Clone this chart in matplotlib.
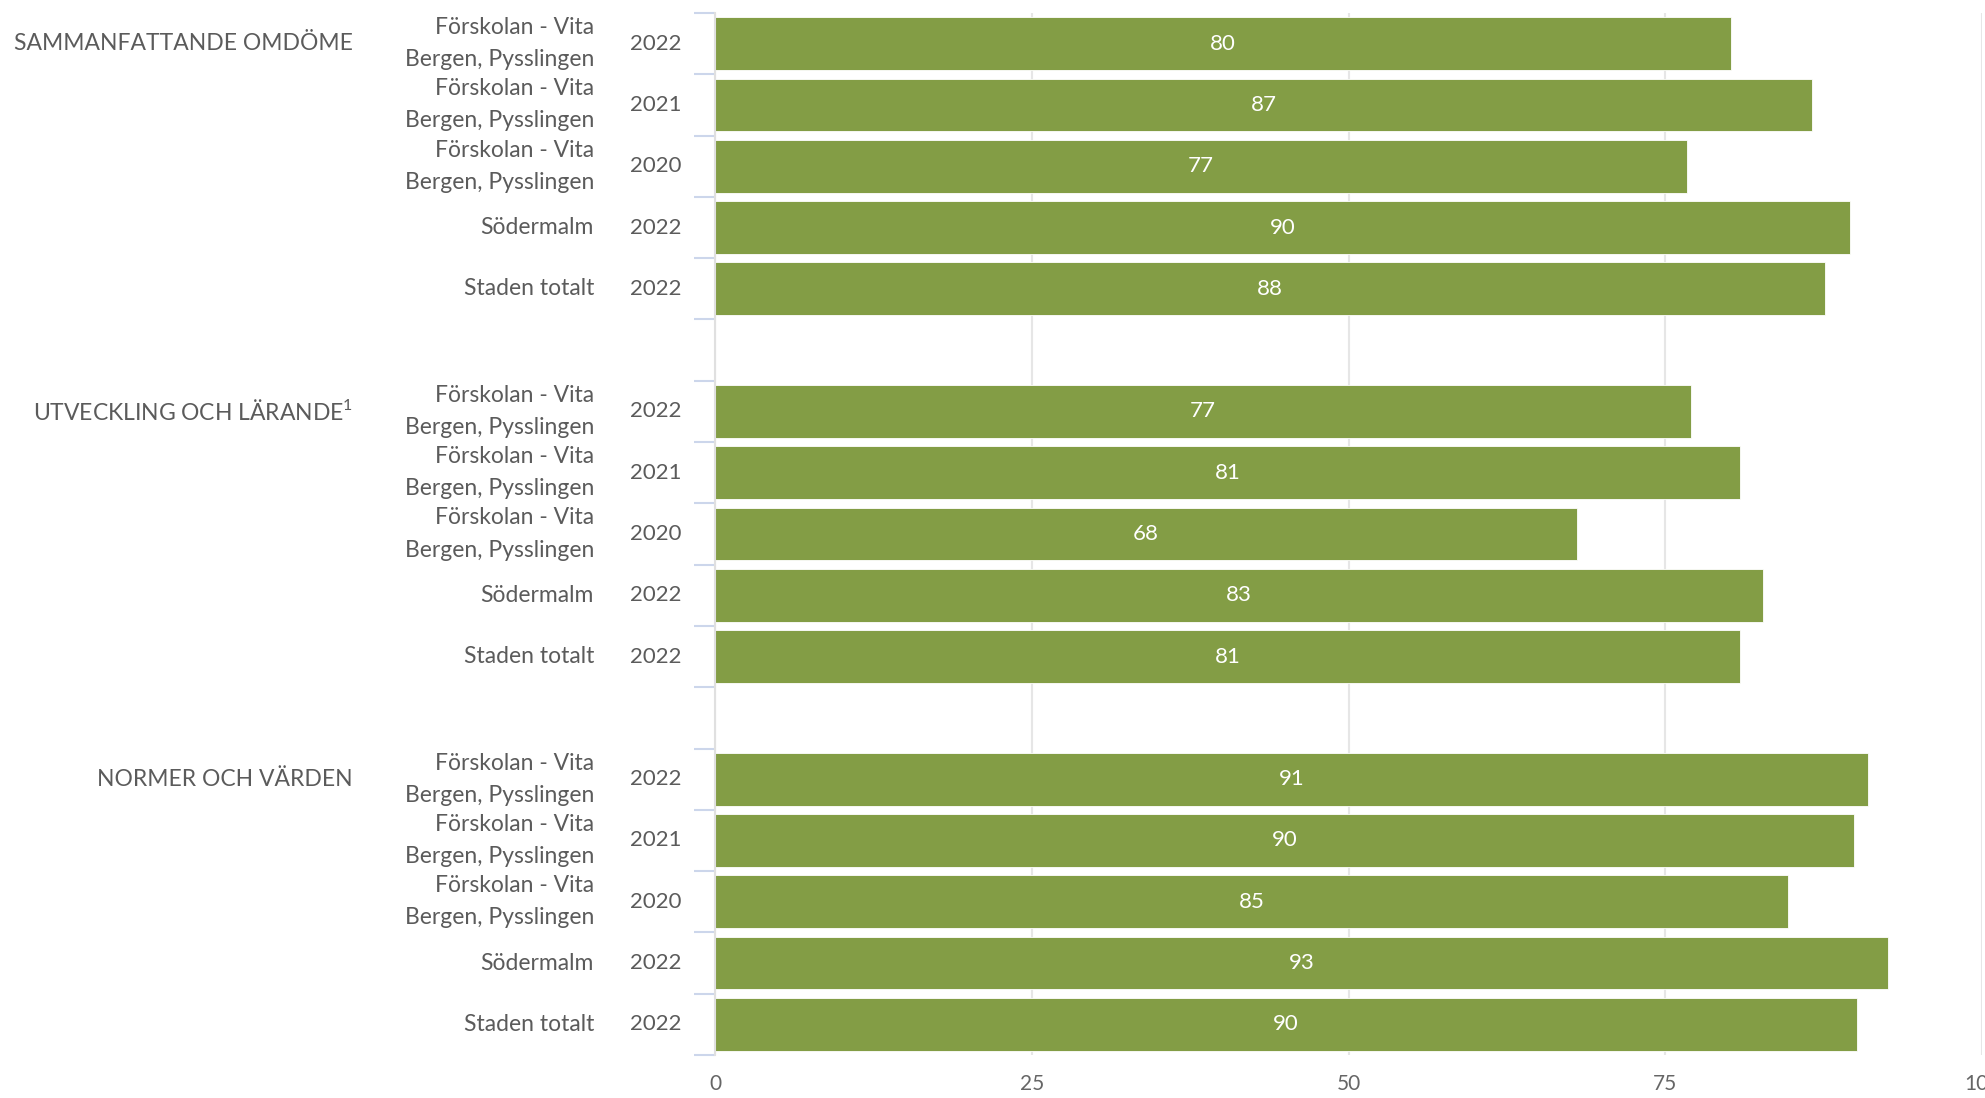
import numpy as np
import matplotlib.pyplot as plt

plt.rcParams['font.family'] = ['Lato', 'DejaVu Sans']
plt.rcParams['mathtext.fontset'] = 'custom'
plt.rcParams['mathtext.rm'] = 'Lato'

# chart data (bar lengths, labels as printed)
groups = ['SAMMANFATTANDE OMDÖME', 'UTVECKLING OCH LÄRANDE$^{1}$', 'NORMER OCH VÄRDEN']
units = ['Förskolan - Vita\nBergen, Pysslingen', 'Förskolan - Vita\nBergen, Pysslingen',
         'Förskolan - Vita\nBergen, Pysslingen', 'Södermalm', 'Staden totalt']
years = ['2022', '2021', '2020', '2022', '2022']
omdome = [80.2, 86.6, 76.7, 89.6, 87.6]
utveckling = [77.0, 80.9, 68.0, 82.7, 80.9]
normer = [91.0, 89.9, 84.7, 92.6, 90.1]
omdome_lbl = [80, 87, 77, 90, 88]
utveckling_lbl = [77, 81, 68, 83, 81]
normer_lbl = [91, 90, 85, 93, 90]
values = [omdome, utveckling, normer]
labels = [omdome_lbl, utveckling_lbl, normer_lbl]
xticks = [0, 25, 50, 75, 100]

green = '#839d45'
text_col = '#5b5b5b'

fig = plt.figure(figsize=(19.85, 10.98), dpi=100)
ax = fig.add_axes([715 / 1985, 43 / 1098, 1267 / 1985, 1042 / 1098])

for g, vals in enumerate(values):
    pos = np.arange(len(vals)) + g * 6
    ax.barh(pos, vals, height=0.86, color=green, edgecolor='white', linewidth=0.6, zorder=2)
    for p, v, lb in zip(pos, vals, labels[g]):
        ax.text(v / 2, p, str(lb), color='white', fontsize=16, ha='center', va='center', zorder=3)
    # left side labels
    ax.annotate(groups[g], xy=(0, pos[0]), xycoords=('axes fraction', 'data'),
                xytext=(-362, 0), textcoords='offset pixels',
                ha='right', va='center', fontsize=16.5, color=text_col)
    for p, u, yr in zip(pos, units, years):
        ax.annotate(u, xy=(0, p), xycoords=('axes fraction', 'data'),
                    xytext=(-121, 0), textcoords='offset pixels',
                    ha='right', va='center', fontsize=16.5, color=text_col, linespacing=1.65)
        ax.annotate(yr, xy=(0, p), xycoords=('axes fraction', 'data'),
                    xytext=(-34, 0), textcoords='offset pixels',
                    ha='right', va='center', fontsize=16, color=text_col)

ax.set_xlim(0, 100)
ax.set_ylim(16.5, -0.5)
ax.set_xticks(xticks)
ax.set_yticks(np.arange(-0.5, 17, 1))
ax.set_yticklabels([])
ax.tick_params(axis='y', length=15, width=1.5, color='#ccd6eb', direction='out')
ax.tick_params(axis='x', length=0, labelsize=15, labelcolor='#666666', pad=14)
ax.grid(axis='x', color='#e6e6e6', linewidth=1.5, zorder=0)
for s in ['top', 'right', 'bottom']:
    ax.spines[s].set_visible(False)
ax.spines['left'].set_color('#e0e0e0')
ax.spines['left'].set_linewidth(1.5)
ax.set_axisbelow(True)

plt.savefig('out.png', dpi=100)
